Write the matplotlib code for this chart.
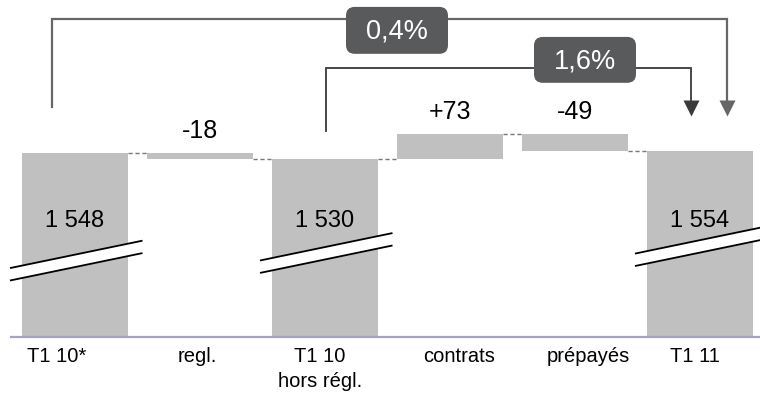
import matplotlib.pyplot as plt
import numpy as np
from matplotlib.patches import FancyBboxPatch, Polygon

plt.rcParams["font.family"] = ["Liberation Sans", "DejaVu Sans"]

# Waterfall data
categories = ["T1 10*", "regl.", "T1 10\nhors régl.", "contrats", "prépayés", "T1 11"]
totals = {0: 1548, 2: 1530, 5: 1554}
deltas = {1: -18, 3: 73, 4: -49}
growth_labels = ["0,4%", "1,6%"]

BAR_COLOR = "#c0c0c0"
LINE_DARK = "#595a5c"
BASE = 1015  # bottom of the broken axis

fig = plt.figure(figsize=(7.6, 3.93), dpi=100)
ax = fig.add_axes([0, 0, 1, 1])
ax.set_xlim(-0.6, 5.48)
ax.set_ylim(852, 1991)
ax.axis("off")

width = 0.85

# compute bar spans (bottom, top) in order
spans = []
level = None
for i in range(len(categories)):
    if i in totals:
        level = totals[i]
        spans.append((BASE, level))
    else:
        new = level + deltas[i]
        spans.append((min(level, new), max(level, new)))
        level = new

for i, (lo, hi) in enumerate(spans):
    ax.bar(i, hi - lo, bottom=lo, width=width, color=BAR_COLOR, zorder=1)

# dashed connectors between neighbouring bars
level = totals[0]
for i in range(len(categories) - 1):
    nxt = totals[i + 1] if (i + 1) in totals else level + deltas[i + 1]
    ax.plot([i + width / 2, i + 1 - width / 2], [level, level],
            color="#777777", lw=1.0, ls=(0, (3, 2)), zorder=2)
    level = nxt

# axis baseline
ax.plot([-0.512, 5.48], [BASE, BASE], color="#a4a4c8", lw=1.6, zorder=3)

# break marks on the total bars
break_mid = {0: 1235, 2: 1257, 5: 1277}
slope = 75.0
gap = 36.0
for i, ym in break_mid.items():
    x0, x1 = i - 0.52, i + 0.54
    y0 = ym - slope * 0.52
    y1 = ym + slope * 0.54
    poly = Polygon([(x0, y0 - gap / 2), (x1, y1 - gap / 2),
                    (x1, y1 + gap / 2), (x0, y0 + gap / 2)],
                   closed=True, facecolor="white", edgecolor="none", zorder=4)
    ax.add_patch(poly)
    for s in (-1, 1):
        ax.plot([x0, x1], [y0 + s * gap / 2, y1 + s * gap / 2],
                color="black", lw=1.3, zorder=5, solid_capstyle="butt")

# values inside total bars
for i, v in totals.items():
    ax.text(i, 1333, f"{v:,}".replace(",", " "), ha="center", va="baseline",
            fontsize=17, zorder=6)

# values above the floating bars
for i, d in deltas.items():
    lo, hi = spans[i]
    ax.text(i, hi + 42, f"{d:+d}", ha="center", va="baseline", fontsize=18)

# category labels
label_dx = [-0.144, -0.024, -0.04, 0.072, 0.104, -0.04]
for i, name in enumerate(categories):
    for k, line in enumerate(name.split("\n")):
        ax.text(i + label_dx[i], 942 - 72 * k, line, ha="center",
                va="baseline", fontsize=14.5)


def bracket(x_start, y_start, y_top, x_end, y_tip, color, lw):
    head = 22
    ax.plot([x_start, x_start, x_end, x_end],
            [y_start, y_top, y_top, y_tip + head],
            color=color, lw=lw, zorder=2, solid_joinstyle="miter")
    ax.plot(x_end, y_tip + head, marker="v", ms=11.5, color=color,
            mec="none", zorder=3)


def label_box(x0, x1, y0, y1, text):
    aspect = (1 / 0.345) / (1 / 125.0)
    box = FancyBboxPatch((x0, y0), x1 - x0, y1 - y0,
                         boxstyle="round,pad=0,rounding_size=0.07",
                         mutation_aspect=aspect, facecolor=LINE_DARK,
                         edgecolor="none", zorder=7)
    ax.add_patch(box)
    ax.text((x0 + x1) / 2, (y0 + y1) / 2 - 4, text, ha="center", va="center",
            color="white", fontsize=19.5, zorder=8)


bracket(-0.184, 1681, 1936, 5.216, 1655, "#666666", 1.6)
bracket(2.008, 1612, 1794, 4.928, 1655, "#3a3a3a", 1.3)
label_box(2.168, 2.984, 1835, 1971, growth_labels[0])
label_box(3.672, 4.488, 1751, 1884, growth_labels[1])

fig.savefig("out.png", dpi=100)
